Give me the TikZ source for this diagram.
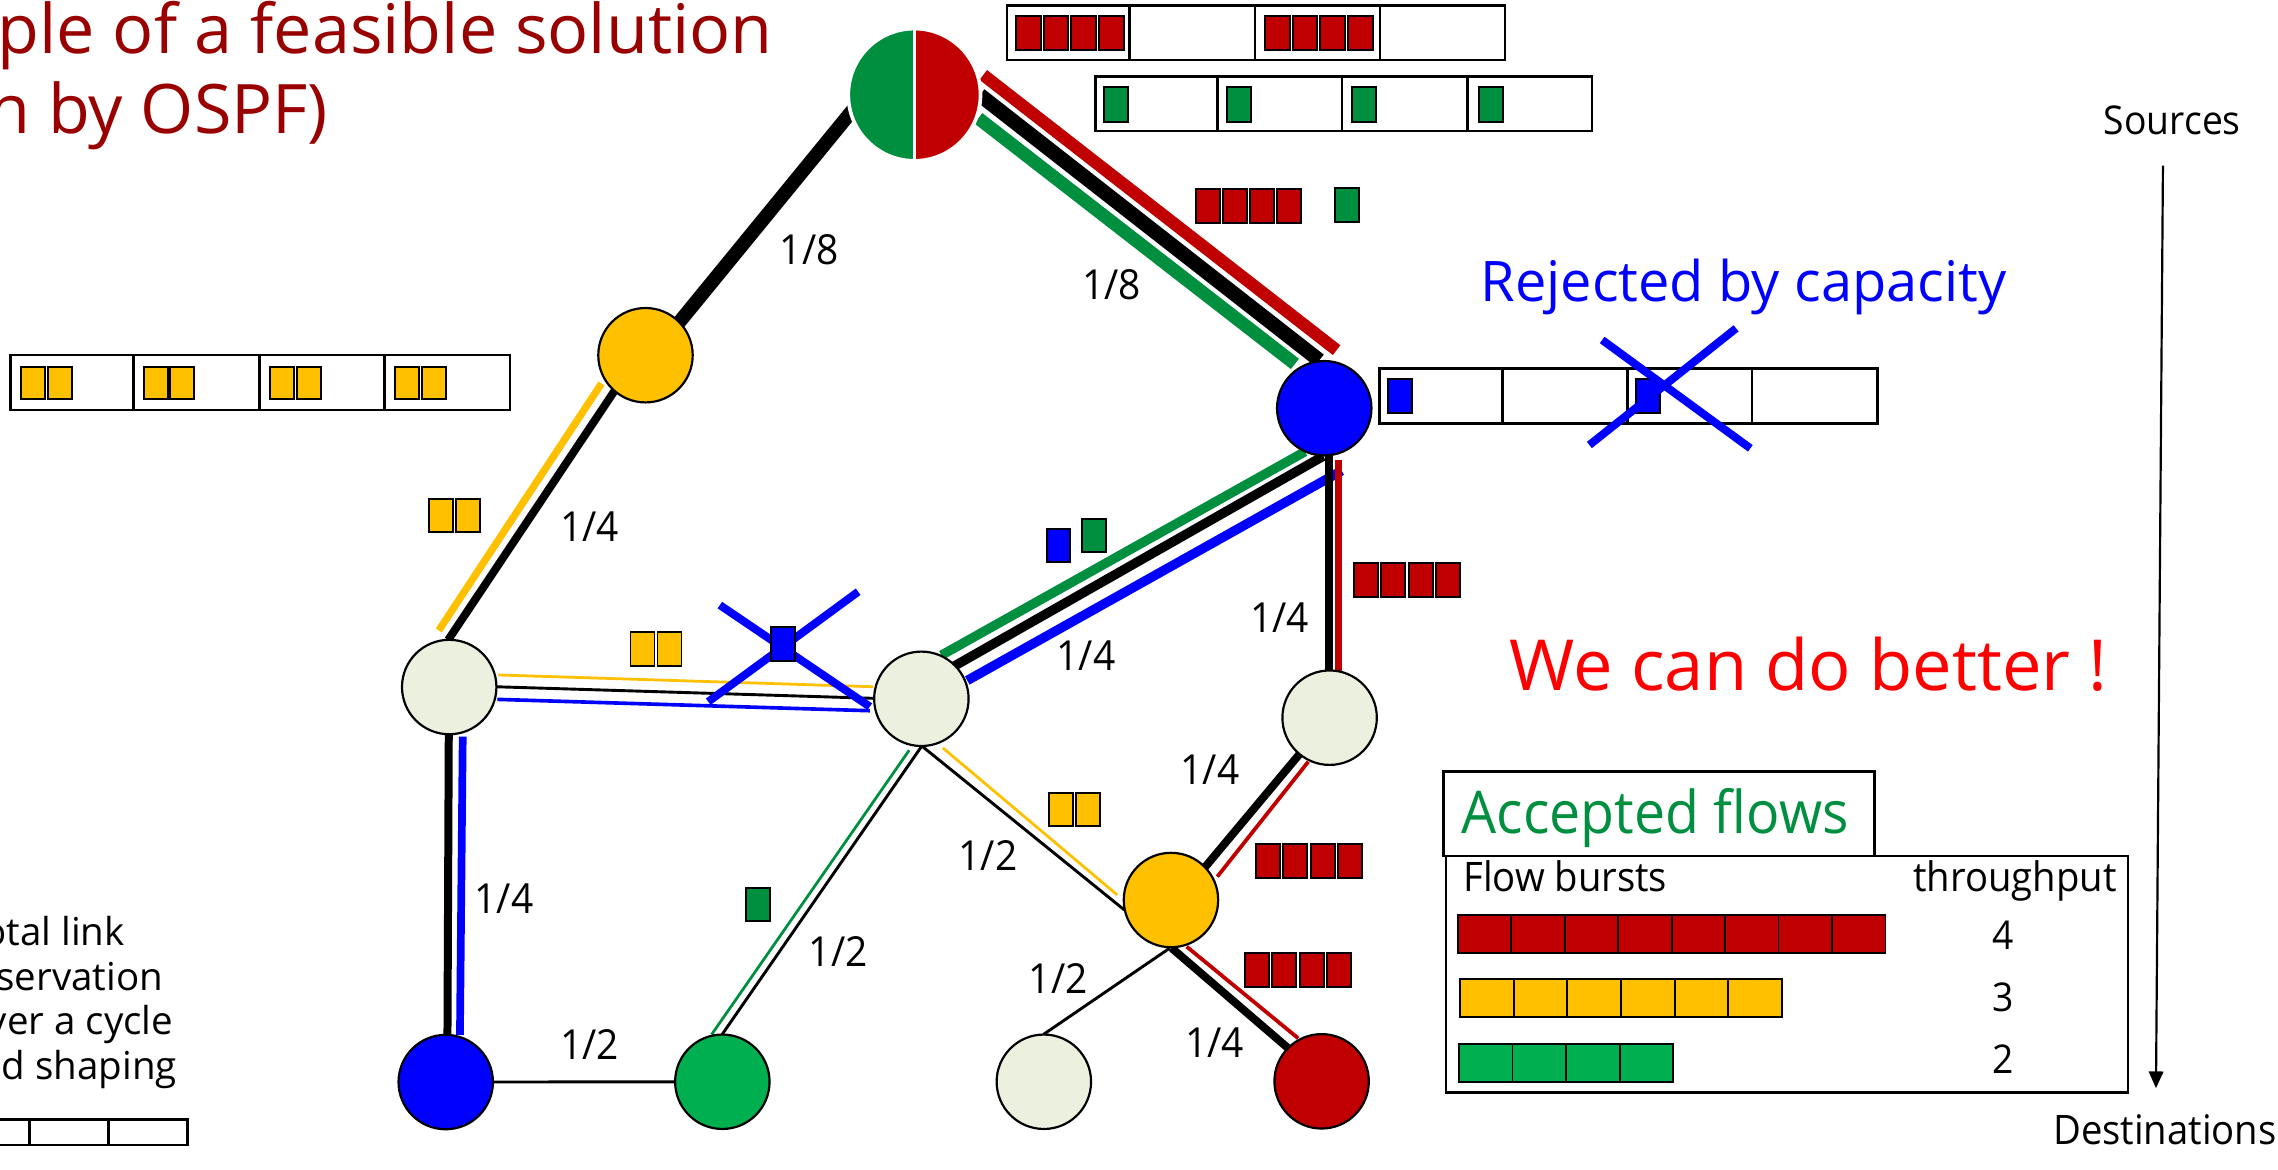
\documentclass[tikz,border=0pt]{standalone}
\usepackage{fontspec}
\setmainfont{Open Sans}[FakeStretch=0.94]
\newfontfamily\widefont{Open Sans}
\usetikzlibrary{backgrounds,arrows.meta}
\definecolor{tred}{HTML}{C00000}
\definecolor{tgreen}{HTML}{008F3F}
\definecolor{bgreen}{HTML}{00B050}
\definecolor{tyellow}{HTML}{FFC000}
\definecolor{tblue}{HTML}{0000FF}
\definecolor{tlight}{HTML}{EBF1DE}
\definecolor{ttitle}{HTML}{990000}
\definecolor{tbright}{HTML}{FF0000}
\newcommand\fsz[1]{\fontsize{#1}{#1}\selectfont}

\begin{document}
\begin{tikzpicture}[x=1pt,y=-1pt,
  router/.style={circle,draw=black,line width=1.5pt,minimum size=65pt,inner sep=0pt,fill=#1},
  pkt/.style={draw=black,line width=1.3pt,fill=#1},
  buf/.style={draw=black,line width=1.8pt},
  lnk/.style={line width=#1pt},
  txt/.style={inner sep=0pt,font=\fsz{#1}},
  wtxt/.style={inner sep=0pt,font=\widefont\fsz{#1}},
  lbl/.style={inner sep=0pt,font=\fsz{28.5},anchor=base},
  cross/.style={draw=tblue,line width=5.5pt}]
\useasboundingbox (0,0) rectangle (1568,805);

% ---------- title ----------
\node[wtxt=47,text=ttitle,anchor=base east] (title1) at (532,36.7) {ple of a feasible solution};
\node[wtxt=47,text=ttitle,anchor=base east] (title2) at (226,91.8) {n by OSPF)};

% ---------- routers ----------
\node[circle,minimum size=91pt,inner sep=0pt,draw=white,line width=2.5pt,
  path picture={
    \fill[tgreen] (path picture bounding box.south west) rectangle (path picture bounding box.north);
    \fill[tred] (path picture bounding box.south) rectangle (path picture bounding box.north east);
    \draw[white,line width=2.5pt] (path picture bounding box.south) -- (path picture bounding box.north);}]
  (T) at (629.4,65.2) {};
\node[router=tyellow] (Y1) at (444.3,244.5) {};
\node[router=tblue]   (B1) at (911.5,281) {};
\node[router=tlight]  (L1) at (309.2,472.9) {};
\node[router=tlight]  (L2) at (634.2,481) {};
\node[router=tlight]  (L3) at (915.2,494) {};
\node[router=tyellow] (Y2) at (806,619.5) {};
\node[router=tblue]   (B2) at (306.8,744.8) {};
\node[router=bgreen]  (G)  at (497.2,744.6) {};
\node[router=tlight]  (L4) at (718.5,744.6) {};
\node[router=tred]    (R)  at (909.7,744.3) {};

% ---------- links (black = capacity, coloured = flows) ----------
\begin{scope}[on background layer]
  % T -- Y1
  \draw[lnk=9.5] ([shift={(-42,10)}]T.center) -- ([shift={(21,-20)}]Y1.center);
  % T -- B1
  \draw[lnk=8.5,tred]   ([shift={(47.4,-13.6)}]T.center) -- ([shift={(8.5,-40)}]B1.center);
  \draw[lnk=10]         ([shift={(45.1,0.2)}]T.center)   -- ([shift={(-3.4,-33)}]B1.center);
  \draw[lnk=9,tgreen]   ([shift={(44,16.2)}]T.center)    -- ([shift={(-20.2,-30.5)}]B1.center);
  % Y1 -- L1
  \draw[lnk=5.5]        ([shift={(-19.3,21.5)}]Y1.center) -- ([shift={(-0.7,-32.4)}]L1.center);
  \draw[lnk=5,tyellow]  ([shift={(-30.3,19.5)}]Y1.center) -- ([shift={(-7.2,-38.9)}]L1.center);
  % L1 -- B2
  \draw[lnk=5.5]        ([shift={(-0.3,33)}]L1.center) -- ([shift={(1.2,-33)}]B2.center);
  \draw[lnk=5.3,tblue]  ([shift={(9.3,34.1)}]L1.center) -- ([shift={(9.8,-32.4)}]B2.center);
  % L1 -- L2
  \draw[lnk=1.9,tyellow] ([shift={(33.8,-8.3)}]L1.center) -- ([shift={(-33.2,-8.3)}]L2.center);
  \draw[lnk=2]           ([shift={(32,-0.2)}]L1.center)   -- ([shift={(-32,-0.3)}]L2.center);
  \draw[lnk=2.5,tblue]   ([shift={(33.1,8.5)}]L1.center)  -- ([shift={(-35.5,8.2)}]L2.center);
  % L2 -- B1
  \draw[lnk=6.5,tgreen] ([shift={(13.8,-30)}]L2.center) -- ([shift={(-13.3,29.9)}]B1.center);
  \draw[lnk=6.5]        ([shift={(20,-21)}]L2.center)   -- ([shift={(-0.7,33)}]B1.center);
  \draw[lnk=6.5,tblue]  ([shift={(31.6,-12.6)}]L2.center) -- ([shift={(12,43)}]B1.center);
  % B1 -- L3
  \draw[lnk=5.7]        ([shift={(3.2,32)}]B1.center) -- ([shift={(-0.5,-32)}]L3.center);
  \draw[lnk=4.8,tred]   ([shift={(9.9,35.6)}]B1.center) -- ([shift={(6.2,-32.4)}]L3.center);
  % L3 -- Y2
  \draw[lnk=5.5]        ([shift={(-19,23)}]L3.center) -- ([shift={(22.5,-21.5)}]Y2.center);
  \draw[lnk=2.6,tred]   ([shift={(-14.7,30.3)}]L3.center) -- ([shift={(31.9,-16.1)}]Y2.center);
  % L2 -- Y2
  \draw[lnk=2]          ([shift={(0.3,32.5)}]L2.center) -- ([shift={(-32,6.9)}]Y2.center);
  \draw[lnk=1.9,tyellow] ([shift={(14.8,33.8)}]L2.center) -- ([shift={(-37,-3.5)}]Y2.center);
  % L2 -- G
  \draw[lnk=2]          ([shift={(0.3,32.5)}]L2.center) -- ([shift={(-0.2,-32.5)}]G.center);
  \draw[lnk=1.9,tgreen] ([shift={(-8.4,35.4)}]L2.center) -- ([shift={(-7.4,-32.5)}]G.center);
  % B2 -- G
  \draw[lnk=2] (B2.center) -- (G.center);
  % Y2 -- L4
  \draw[lnk=2] ([shift={(-0.7,33)}]Y2.center) -- ([shift={(-0.4,-32.5)}]L4.center);
  % Y2 -- R
  \draw[lnk=5.5]      ([shift={(0.4,33)}]Y2.center) -- ([shift={(-23.5,-23.2)}]R.center);
  \draw[lnk=2.6,tred] ([shift={(10.8,32.1)}]Y2.center) -- ([shift={(-16.1,-29.6)}]R.center);
\end{scope}

% ---------- link labels ----------
\node[lbl] (c1)  at (557,182)    {1/8};
\node[lbl] (c2)  at (765,206)    {1/8};
\node[lbl] (c3)  at (405.8,373)  {1/4};
\node[lbl] (c4)  at (747.5,461.5){1/4};
\node[lbl] (c5)  at (880.8,435.7){1/4};
\node[lbl] (c6)  at (832.8,540)  {1/4};
\node[lbl] (c7)  at (680,599)    {1/2};
\node[lbl] (c8)  at (577,665)    {1/2};
\node[lbl] (c9)  at (347,629)    {1/4};
\node[lbl] (c10) at (405.8,729)  {1/2};
\node[lbl] (c11) at (728.5,683.5){1/2};
\node[lbl] (c12) at (836,728)    {1/4};

% ---------- source buffers ----------
\draw[buf] (693,3.9) rectangle (1035.8,41.3);
\foreach \d in {777.5,863.8,950} \draw[buf] (\d,3.9) -- (\d,41.3);
\foreach \i in {0,...,3} {
  \path[pkt=tred] (699.4+19*\i,11) rectangle ++(17,23.4);
  \path[pkt=tred] (870.8+19*\i,11) rectangle ++(17,23.4);
}
\draw[buf] (754.2,52.8) rectangle (1095.8,90.2);
\foreach \d in {838.1,923.8,1010.1} \draw[buf] (\d,52.8) -- (\d,90.2);
\foreach \p in {760,844.6,930.8,1018.3} \path[pkt=tgreen] (\p,60.1) rectangle ++(16.3,23.6);

\draw[buf] (7.2,244.4) rectangle (351,282.2);
\foreach \d in {91.8,178.7,264.6} \draw[buf] (\d,244.4) -- (\d,282.2);
\foreach \p in {14.5,99,185.9,271.9} {
  \path[pkt=tyellow] (\p,252.4) rectangle ++(16.5,22.5);
  \path[pkt=tyellow] (\p+18.3,252.4) rectangle ++(16.5,22.5);
}

\draw[buf] (949.5,253.5) rectangle (1292.3,291.4);
\foreach \d in {1034,1120.3,1206} \draw[buf] (\d,253.5) -- (\d,291.4);
\foreach \p in {955.3,1126} \path[pkt=tblue] (\p,261) rectangle ++(16.3,23);

\draw[buf] (-40,770.5) rectangle (129.2,788.1);
\foreach \d in {20.2,74.6} \draw[buf] (\d,770.5) -- (\d,788.1);

% ---------- packets in flight ----------
\foreach \i in {0,...,3} {
  \path[pkt=tred] (823+18.7*\i,130) rectangle ++(16.7,23.3);
  \path[pkt=tred] (932+18.8*\i,387.7) rectangle ++(16.5,23);
  \path[pkt=tred] (864.5+18.8*\i,581) rectangle ++(16.5,23.6);
  \path[pkt=tred] (857+18.8*\i,655.8) rectangle ++(16.5,23.4);
}
\path[pkt=tgreen] (919.2,129.6) rectangle ++(16.3,23);
\path[pkt=tyellow] (295.5,343.5) rectangle ++(16.5,22.4);
\path[pkt=tyellow] (313.8,343.5) rectangle ++(16.5,22.4);
\path[pkt=tyellow] (434,435) rectangle ++(16.5,23.4);
\path[pkt=tyellow] (452.6,435) rectangle ++(16.5,23.4);
\path[pkt=tyellow] (722.3,545.6) rectangle ++(16.5,23);
\path[pkt=tyellow] (740.9,545.6) rectangle ++(16.5,23);
\path[pkt=tblue]  (720.4,364.3) rectangle ++(16.4,22.7);
\path[pkt=tgreen] (744.6,357) rectangle ++(16.4,23);
\path[pkt=tgreen] (513.7,611.1) rectangle ++(16,22.7);

% ---------- rejected flows ----------
\draw[cross] (1102.8,234) -- (1204.8,308.6);
\draw[cross] (1195,226) -- (1094,306.3);
\draw[cross] (495.5,416.5) -- (598.7,486.4);
\draw[cross] (590.7,407.3) -- (487.5,483);
\path[pkt=tblue] (530.6,431.4) rectangle ++(16.5,23.4);

% ---------- annotations ----------
\node[wtxt=38.5,text=tblue,anchor=base west] (rej) at (1019,207.6) {Rejected by capacity};
\node[wtxt=48.5,text=tbright,anchor=base west] (better) at (1039,475) {We can do better !};

\node[wtxt=26.5,anchor=base east] (n1) at (86,650.5)   {otal link};
\node[wtxt=26.5,anchor=base east] (n2) at (112.5,681.5) {servation};
\node[wtxt=26.5,anchor=base east] (n3) at (119.5,712)  {ver a cycle};
\node[wtxt=26.5,anchor=base east] (n4) at (122,743)    {d shaping};

% ---------- sources / destinations axis ----------
\node[txt=27.3,anchor=base west] (src) at (1448,92.9) {Sources};
\node[txt=28,anchor=base west] (dst) at (1413,788.1) {Destinations};
\coordinate (axtop) at (1488.8,114);
\coordinate (axbot) at (1484,749);
\draw[line width=1.5pt,-{Triangle[length=11.5pt,width=10pt]}] (axtop) -- (axbot);

% ---------- accepted flows table ----------
\draw[line width=2pt] (993.8,531.1) rectangle (1290.5,589.2);
\node[txt=40.6,text=tgreen,anchor=base west] (acc) at (1006,573.6) {Accepted flows};
\draw[line width=2pt] (995.3,589.2) rectangle (1464.7,751.8);
\node[txt=28,anchor=base west] (fb) at (1007,613.7) {Flow bursts};
\node[txt=28,anchor=base east] (tp) at (1457,613.7) {throughput};
\foreach \i in {0,...,7} \draw[pkt=tred] (1003.4+36.8*\i,629.8) rectangle ++(36.8,25.9);
\foreach \i in {0,...,5} \draw[pkt=tyellow] (1005+36.93*\i,674) rectangle ++(36.93,26.2);
\foreach \i in {0,...,3} \draw[pkt=bgreen] (1004.2+36.9*\i,718.6) rectangle ++(36.9,26.4);
\node[txt=27.3,anchor=base] (t4) at (1378.6,653.4) {4};
\node[txt=27.3,anchor=base] (t3) at (1378.8,696.3) {3};
\node[txt=27.3,anchor=base] (t2) at (1378.8,738.8) {2};
\end{tikzpicture}
\end{document}
